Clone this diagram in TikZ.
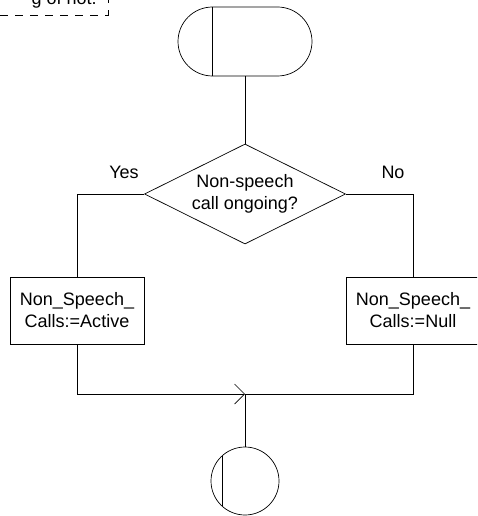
\documentclass[tikz,border=0pt]{standalone}
\usepackage{fontspec}
\setmainfont{Liberation Sans}
\usetikzlibrary{arrows.meta,shapes.geometric,shapes.misc}

\begin{document}
\begin{tikzpicture}[x=1pt,y=-1pt,line width=0.7pt,
every node/.style={font=\fontsize{18}{22}\selectfont},
box/.style={draw,rectangle,minimum width=134pt,minimum height=67pt,align=center,inner sep=0pt},
decision/.style={draw,diamond,aspect=2,minimum width=201pt,minimum height=100pt,align=center,inner sep=0pt},
terminal/.style={draw,rounded rectangle,minimum width=134pt,minimum height=69pt,inner sep=0pt},
stopnode/.style={draw,circle,minimum size=68pt,inner sep=0pt}]
\useasboundingbox (0,0) rectangle (477,516);
\clip (0,0) rectangle (477,516);
% comment box, cut off at the top
\node[anchor=base east,inner sep=0pt] (note) at (97,5) {g of not.};
\draw[dash pattern=on 8pt off 7pt] (0,15) -- (108,15) -- (108,-10);
% flow
\node[terminal] (start) at (245,41.5) {};
\draw ([xshift=-33pt]start.north) -- ([xshift=-33pt]start.south);
\node[decision] (dec) at (245,194) {Non-speech\\call ongoing?};
\node (yes) at (124,172) {Yes};
\node (no) at (393,172) {No};
\node[box] (act) at (77,310.5) {Non\_Speech\_\\Calls:=Active};
\node[box] (null) at (413,310.5) {Non\_Speech\_\\Calls:=Null};
\coordinate (join) at (245,394);
\node[stopnode] (stop) at (245,481) {};
\draw ([xshift=-23pt,yshift=-25pt]stop.center) -- ([xshift=-23pt,yshift=25pt]stop.center);
\draw (start) -- (dec);
\draw (dec.west) -| (act.north);
\draw (dec.east) -| (null.north);
\draw[-{Straight Barb[length=10pt,width=20pt]}] (act.south) |- (join);
\draw (null.south) |- (join);
\draw (join) -- (stop);
\end{tikzpicture}
\end{document}
